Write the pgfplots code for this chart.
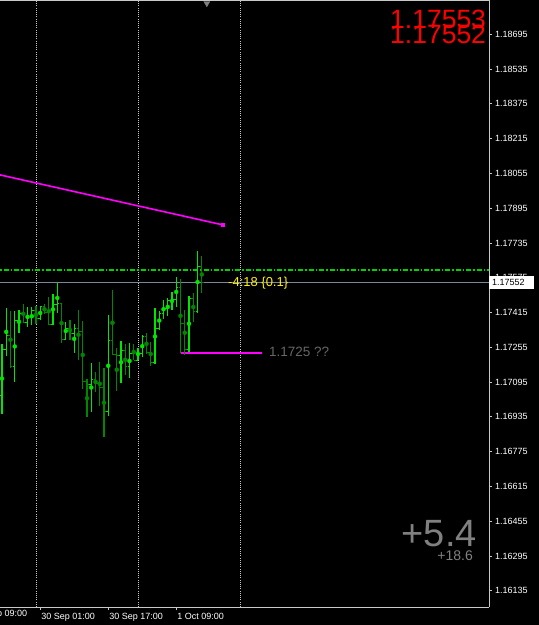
\documentclass[border=0pt]{standalone}
\usepackage{fontspec}
\setmainfont{Liberation Sans}
\usepackage{pgfplots}
\pgfplotsset{compat=1.18}
\usepackage{pgfplotstable}
\definecolor{barup}{RGB}{0,230,0}
\definecolor{bardn}{RGB}{0,135,0}
\definecolor{axgray}{RGB}{200,200,200}
\definecolor{bidgray}{RGB}{119,136,153}
\definecolor{dashgreen}{RGB}{0,210,0}
\definecolor{mag}{RGB}{255,0,255}
\definecolor{txtgray}{RGB}{128,128,128}

\pgfplotstableread{
t o h l c
-8 1.17034 1.17273 1.16951 1.17245
-7 1.17245 1.17437 1.17216 1.17310
-5 1.17166 1.17423 1.17097 1.17376
-4 1.17376 1.17426 1.17319 1.17411
-2 1.17370 1.17442 1.17350 1.17396
-1 1.17396 1.17442 1.17357 1.17426
1 1.17388 1.17445 1.17383 1.17442
4 1.17362 1.17503 1.17360 1.17452
5 1.17452 1.17552 1.17414 1.17457
7 1.17293 1.17371 1.17288 1.17342
9 1.17319 1.17362 1.17227 1.17342
13 1.17086 1.17182 1.16959 1.17107
17 1.16960 1.17403 1.16940 1.17284
20 1.17219 1.17284 1.17089 1.17242
22 1.17166 1.17273 1.17112 1.17227
24 1.17196 1.17255 1.17196 1.17227
25 1.17227 1.17311 1.17212 1.17304
28 1.17186 1.17434 1.17176 1.17342
29 1.17342 1.17423 1.17334 1.17411
30 1.17411 1.17475 1.17388 1.17434
31 1.17434 1.17485 1.17399 1.17472
32 1.17472 1.17511 1.17426 1.17475
33 1.17475 1.17577 1.17442 1.17531
36 1.17245 1.17491 1.17235 1.17480
38 1.17419 1.17698 1.17414 1.17629
}\barsup

\pgfplotstableread{
t o h l c
-6 1.17310 1.17422 1.17158 1.17166
-3 1.17411 1.17454 1.17365 1.17370
0 1.17426 1.17445 1.17365 1.17388
2 1.17442 1.17454 1.17408 1.17416
3 1.17416 1.17485 1.17357 1.17362
6 1.17457 1.17457 1.17276 1.17293
8 1.17342 1.17380 1.17288 1.17319
10 1.17342 1.17429 1.17199 1.17327
11 1.17327 1.17377 1.17063 1.17097
12 1.17097 1.17109 1.16936 1.17086
14 1.17107 1.17141 1.17051 1.17089
15 1.17089 1.17190 1.16986 1.17071
16 1.17071 1.17158 1.16843 1.16960
18 1.17284 1.17518 1.17219 1.17222
19 1.17222 1.17250 1.17055 1.17219
21 1.17242 1.17270 1.17127 1.17166
23 1.17227 1.17273 1.17196 1.17196
26 1.17304 1.17319 1.17224 1.17232
27 1.17232 1.17281 1.17169 1.17186
34 1.17531 1.17572 1.17230 1.17365
35 1.17365 1.17426 1.17219 1.17245
37 1.17480 1.17506 1.17373 1.17419
39 1.17629 1.17675 1.17506 1.17552
}\barsdn

\begin{document}
\begin{tikzpicture}
\useasboundingbox (0pt,0pt) rectangle (539pt,625pt);
\fill[black] (0pt,0pt) rectangle (539pt,625pt);
\begin{axis}[
  at={(0pt,18pt)}, anchor=south west,
  scale only axis, width=489pt, height=607pt,
  xmin=-8.4706, xmax=106.588, ymin=1.16060, ymax=1.18853,
  axis x line*=bottom, axis y line*=right,
  axis line style={axgray, line width=0.8pt},
  clip mode=individual,
  tick align=outside, major tick length=3pt,
  tick style={axgray, line width=0.8pt},
  /pgf/number format/assume math mode=true,
  ytick={1.16135,1.16295,1.16455,1.16615,1.16775,1.16935,1.17095,1.17255,1.17415,1.17575,1.17735,1.17895,1.18055,1.18215,1.18375,1.18535,1.18695},
  yticklabels={1.16135,1.16295,1.16455,1.16615,1.16775,1.16935,1.17095,1.17255,1.17415,1.17575,1.17735,1.17895,1.18055,1.18215,1.18375,1.18535,1.18695},
  xtick={1,17,33},
  xticklabels={30 Sep 01:00,30 Sep 17:00,1 Oct 09:00},
  yticklabel style={anchor=west, inner sep=0pt, xshift=3pt},
  xticklabel style={anchor=north west, inner sep=0pt, yshift=-3pt, xshift=1pt},
  tick label style={font=\fontsize{9}{10}\selectfont, white},
  extra x ticks={0,24,48},
  extra x tick labels={},
  extra x tick style={grid=major, major tick length=0pt,
    major grid style={draw=axgray, dash pattern=on 1pt off 1.2pt, line width=0.9pt}},
]
% price lines
\addplot[color=dashgreen, solid, line width=1.4pt, dash pattern=on 5pt off 2pt on 1.5pt off 2pt] coordinates {(-10,1.17611) (110,1.17611)};
\addplot[color=bidgray, line width=1pt] coordinates {(-10,1.17552) (110,1.17552)};
% trend line
\addplot[color=mag, line width=1.6pt] coordinates {(-10,1.18055) (44,1.17818)};
\addplot[only marks, mark=square*, mark size=1.5pt, color=mag] coordinates {(44,1.17818)};
% horizontal level
\addplot[color=mag, line width=1.9pt] coordinates {(34.1,1.17230) (53.2,1.17230)};
% bars: high-low lines
\addplot[color=bardn, only marks, mark=none, error bars/.cd, y dir=both, y explicit, error mark=none,
  error bar style={line width=1.3pt, draw=bardn}]
  table[x=t, y expr={(\thisrow{h}+\thisrow{l})/2}, y error expr={(\thisrow{h}-\thisrow{l})/2}] {\barsdn};
\addplot[color=barup, only marks, mark=none, error bars/.cd, y dir=both, y explicit, error mark=none,
  error bar style={line width=1.3pt, draw=barup}]
  table[x=t, y expr={(\thisrow{h}+\thisrow{l})/2}, y error expr={(\thisrow{h}-\thisrow{l})/2}] {\barsup};
% open / close ticks
\addplot[only marks, mark=-, mark size=1pt, color=bardn, line width=1pt, mark options={xshift=-1pt}] table[x=t, y=o] {\barsdn};
\addplot[only marks, mark=-, mark size=1pt, color=bardn, line width=1pt, mark options={xshift=1pt}] table[x=t, y=c] {\barsdn};
\addplot[only marks, mark=-, mark size=1pt, color=barup, line width=1pt, mark options={xshift=-1pt}] table[x=t, y=o] {\barsup};
\addplot[only marks, mark=-, mark size=1pt, color=barup, line width=1pt, mark options={xshift=1pt}] table[x=t, y=c] {\barsup};
% chart shift marker
\addplot[only marks, mark=triangle*, mark size=3.5pt, color=txtgray, mark options={rotate=180}] coordinates {(40.2,1.18838)};
\end{axis}
% top frame line
\draw[axgray, line width=0.8pt] (0pt,624.6pt) -- (489pt,624.6pt);
% cut-off first time label
\node[anchor=north west, inner sep=0pt, white, font=\fontsize{9}{10}\selectfont] at (-26.5pt,15pt) {29 Sep 09:00};
% current price label
\fill[white] (489pt,336pt) rectangle (534pt,348.5pt);
\node[anchor=west, inner sep=0pt, black, font=\fontsize{9}{10}\selectfont] at (492pt,342.2pt) {1.17552};
% texts
\node[anchor=base west, inner sep=0pt, red, font=\fontsize{26.5}{27}\selectfont] at (390pt,596.5pt) {1.17553};
\node[anchor=base west, inner sep=0pt, red, font=\fontsize{26.5}{27}\selectfont] at (390pt,581pt) {1.17552};
\node[anchor=base west, inner sep=0pt, yellow, font=\fontsize{13}{14}\selectfont] at (228pt,338pt) {-4:18 \{0.1\}};
\node[anchor=base west, inner sep=0pt, text=txtgray!120!white, font=\fontsize{13.5}{14}\selectfont] at (269pt,268pt) {1.1725 ??};
\node[anchor=base east, inner sep=0pt, txtgray, font=\fontsize{38}{40}\selectfont] at (477pt,78pt) {+5.4};
\node[anchor=base east, inner sep=0pt, txtgray, font=\fontsize{14}{15}\selectfont] at (473pt,64.5pt) {+18.6};
\end{tikzpicture}
\end{document}
